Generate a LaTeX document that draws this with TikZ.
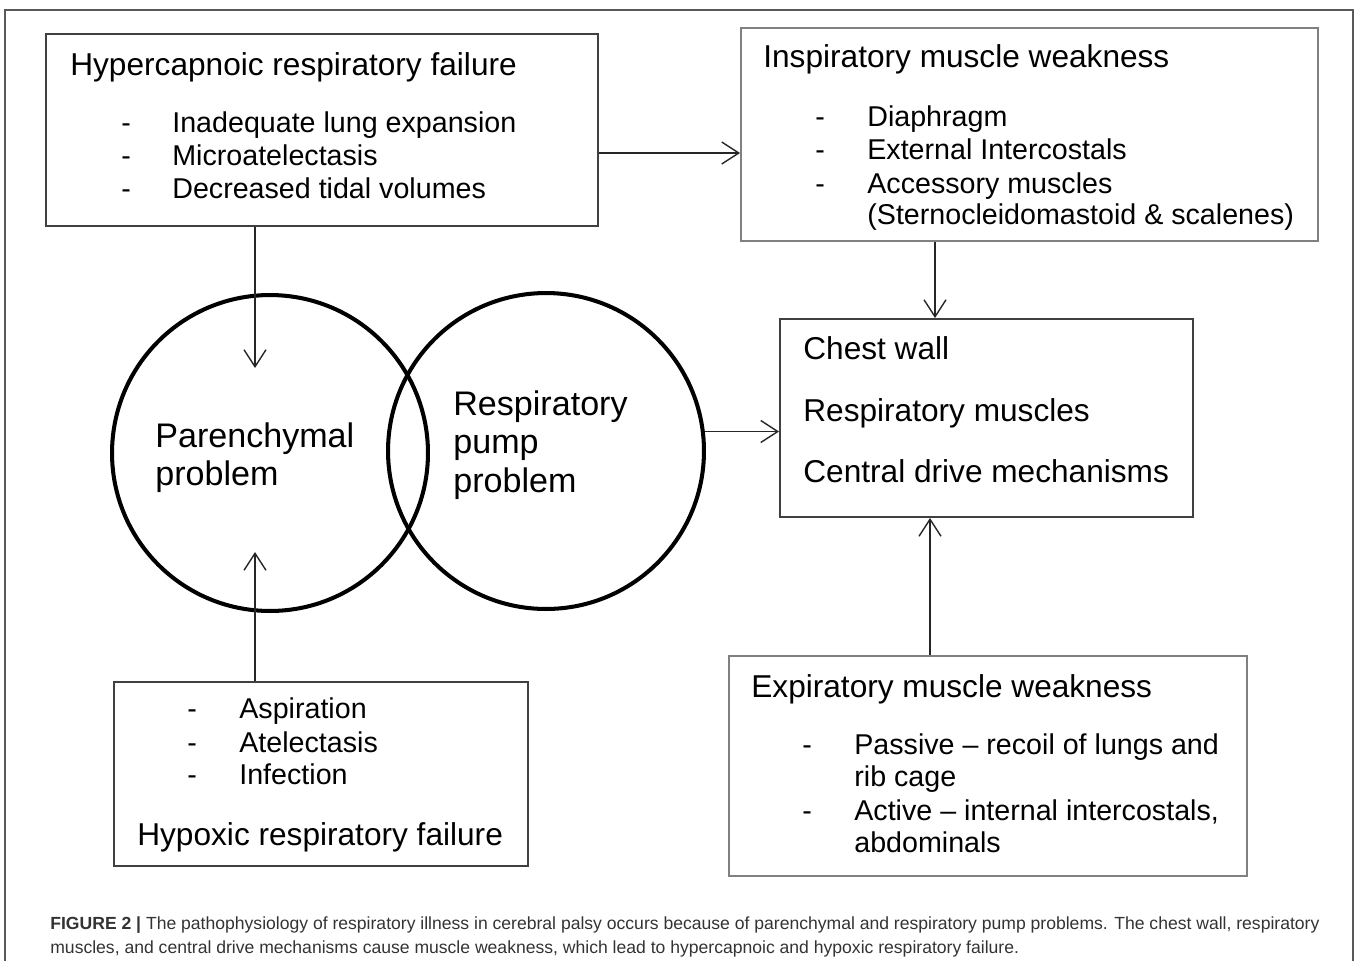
\documentclass[tikz,border=0pt]{standalone}
\usepackage{fontspec}
\setmainfont{Liberation Sans}
\usetikzlibrary{arrows.meta,fit}
\tikzset{
  box/.style={draw=black!75, line width=1.1pt, inner sep=0pt},
  lightbox/.style={box, draw=black!50},
  ring/.style={circle, draw, line width=2.3pt, minimum size=6.32cm, inner sep=0pt},
  heading/.style={anchor=base west, inner sep=0pt, font=\fontsize{18}{20}\selectfont},
  entry/.style={anchor=base west, inner sep=0pt, font=\fontsize{16.3}{19}\selectfont},
  circtext/.style={anchor=base west, inner sep=0pt, font=\fontsize{19.4}{22}\selectfont},
  arr/.style={-{Straight Barb[length=3.4mm,width=4.4mm]}, line width=0.8pt, black!85},
}
\begin{document}
\begin{tikzpicture}[x=0.02cm, y=-0.02cm]
  \useasboundingbox (0,0) rectangle (1358,961);
  % outer frame
  \draw[black!65, line width=0.9pt] (5,961) -- (5,10) -- (1353,10) -- (1353,961);

  % boxes
  \node[box, fit={(46,34) (598,226)}] (hyper) {};
  \node[lightbox, fit={(741,28) (1318,241)}] (insp) {};
  \node[box, fit={(780,319) (1193,517)}] (chest) {};
  \node[lightbox, fit={(729,656) (1247,876)}] (exp) {};
  \node[box, fit={(114,682) (528,866)}] (hypox) {};

  % circles
  \node[ring] (lcirc) at (270,453) {};
  \node[ring] (rcirc) at (546,451) {};

  % hypercapnoic box
  \node[heading] (hyperT) at (70,75) {Hypercapnoic respiratory failure};
  \foreach \y/\t [count=\i] in {132/Inadequate lung expansion, 165/Microatelectasis, 198/Decreased tidal volumes} {
    \node[entry] (hyperD\i) at (121,\y) {-};
    \node[entry] (hyperI\i) at (172,\y) {\t};
  }

  % inspiratory box
  \node[heading] (inspT) at (763,67) {Inspiratory muscle weakness};
  \foreach \y/\t [count=\i] in {126/Diaphragm, 159/External Intercostals, 193/Accessory muscles} {
    \node[entry] (inspD\i) at (815,\y) {-};
    \node[entry] (inspI\i) at (867,\y) {\t};
  }
  \node[entry] (inspI4) at (867,224) {(Sternocleidomastoid \& scalenes)};

  % chest wall box
  \foreach \y/\t [count=\i] in {359/Chest wall, 421/Respiratory muscles, 482/Central drive mechanisms}
    \node[heading] (chestI\i) at (803,\y) {\t};

  % expiratory box
  \node[heading] (expT) at (751,697) {Expiratory muscle weakness};
  \node[entry] (expD1) at (802,754) {-};
  \node[entry] (expD2) at (802,820) {-};
  \foreach \y/\t [count=\i] in {754/Passive -- recoil of lungs and, 786/rib cage, 820/Active -- internal intercostals{,}, 852/abdominals}
    \node[entry] (expI\i) at (854,\y) {\t};

  % hypoxic box
  \foreach \y/\t [count=\i] in {718/Aspiration, 752/Atelectasis, 784/Infection} {
    \node[entry] (hypoxD\i) at (187,\y) {-};
    \node[entry] (hypoxI\i) at (239,\y) {\t};
  }
  \node[heading] (hypoxT) at (137,845) {Hypoxic respiratory failure};

  % circle texts
  \node[circtext] (lcircA) at (155,447) {Parenchymal};
  \node[circtext] (lcircB) at (155,485) {problem};
  \node[circtext] (rcircA) at (453,415) {Respiratory};
  \node[circtext] (rcircB) at (453,453) {pump};
  \node[circtext] (rcircC) at (453,492) {problem};

  % arrows
  \coordinate (lin) at (255,368);
  \coordinate (lout) at (255,552);
  \draw[arr] (hyper.south -| lin) -- (lin);
  \draw[arr] (hypox.north -| lout) -- (lout);
  \draw[arr] ([yshift=-0.46cm]hyper.east) -- ([yshift=-0.46cm]hyper.east -| insp.west);
  \draw[arr] (insp.south -| 935,0) -- (chest.north -| 935,0);
  \draw[arr] (rcirc.7.6) -- (rcirc.7.6 -| chest.west);
  \draw[arr] (exp.north -| 930,0) -- (chest.south -| 930,0);

  % caption
  \node[anchor=base west, inner sep=0pt, align=left, text=black!80,
        font=\fontsize{10}{13.6}\selectfont] (caption) at (50,953)
    {\textbf{FIGURE 2 |} The pathophysiology of respiratory illness in cerebral palsy occurs because of parenchymal and respiratory pump problems. The chest wall, respiratory\\
     muscles, and central drive mechanisms cause muscle weakness, which lead to hypercapnoic and hypoxic respiratory failure.};
\end{tikzpicture}
\end{document}
